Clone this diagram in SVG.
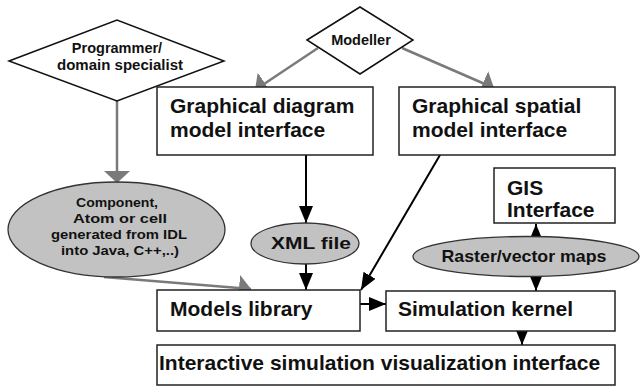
<svg xmlns="http://www.w3.org/2000/svg" width="641" height="386" viewBox="0 0 641 386">
  <style>
    .box { fill: #ffffff; stroke: #222222; stroke-width: 1.5; }
    .dia { fill: #ffffff; stroke: #111111; stroke-width: 1.5; }
    .ell { fill: #c2c2c2; stroke: #333333; stroke-width: 1.3; }
    .big { font-family: "Liberation Sans", Arial, sans-serif; font-weight: bold; font-size: 21px; fill: #111111; }
    .small { font-family: "Liberation Sans", Arial, sans-serif; font-weight: bold; font-size: 14.5px; fill: #111111; text-anchor: middle; }
    .tiny { font-family: "Liberation Sans", Arial, sans-serif; font-weight: bold; font-size: 13px; fill: #111111; text-anchor: middle; }
    .mid { font-family: "Liberation Sans", Arial, sans-serif; font-weight: bold; font-size: 17px; fill: #111111; text-anchor: middle; }
    .blk { stroke: #000000; stroke-width: 2; fill: none; }
    .gry { stroke: #7a7a7a; stroke-width: 2.5; fill: none; }
  </style>
  <defs>
    <marker id="ahBlack" markerUnits="userSpaceOnUse" markerWidth="18" markerHeight="14" refX="17" refY="7" orient="auto">
      <path d="M0,0 L17,7 L0,14 Z" fill="#000000"/>
    </marker>
    <marker id="ahGray" markerUnits="userSpaceOnUse" markerWidth="13" markerHeight="26" refX="12" refY="13" orient="auto">
      <path d="M0,0 L12,13 L0,26 Z" fill="#7a7a7a"/>
    </marker>
  </defs>

  <rect width="641" height="386" fill="#ffffff"/>

  <!-- connectors -->
  <g id="connectors">
    <line class="gry" x1="117" y1="101" x2="117" y2="183" marker-end="url(#ahGray)"/>
    <line class="gry" x1="318" y1="48" x2="255" y2="90" marker-end="url(#ahGray)"/>
    <line class="gry" x1="402" y1="48" x2="494" y2="88" marker-end="url(#ahGray)"/>
    <line class="gry" x1="104" y1="277" x2="251" y2="289" marker-end="url(#ahGray)"/>
    <line class="blk" x1="306" y1="155" x2="306" y2="223" marker-end="url(#ahBlack)"/>
    <line class="blk" x1="306" y1="264" x2="306" y2="290" marker-end="url(#ahBlack)"/>
    <line class="blk" x1="440" y1="155" x2="361" y2="290" marker-end="url(#ahBlack)"/>
    <line class="blk" x1="360" y1="304" x2="386" y2="304" marker-end="url(#ahBlack)"/>
    <line class="blk" x1="536" y1="237" x2="536" y2="224" marker-end="url(#ahBlack)"/>
    <line class="blk" x1="536" y1="277" x2="536" y2="291" marker-end="url(#ahBlack)"/>
    <line class="blk" x1="522" y1="331" x2="522" y2="345" marker-end="url(#ahBlack)"/>
  </g>

  <g id="programmer">
    <polygon class="dia" points="9,61 117,20 224,61 117,101"/>
    <text class="small" x="117" y="53">Programmer/</text>
    <text class="small" x="120" y="70" textLength="126" lengthAdjust="spacingAndGlyphs">domain specialist</text>
  </g>

  <g id="modeller">
    <polygon class="dia" points="307,40 360,7 413,40 360,74"/>
    <text class="small" x="361" y="45">Modeller</text>
  </g>

  <g id="graphical-diagram">
    <rect class="box" x="157" y="87" width="216" height="68"/>
    <text class="big" x="170" y="113">Graphical diagram</text>
    <text class="big" x="170" y="137">model interface</text>
  </g>

  <g id="graphical-spatial">
    <rect class="box" x="399" y="87" width="216" height="68"/>
    <text class="big" x="412" y="113">Graphical spatial</text>
    <text class="big" x="412" y="137">model interface</text>
  </g>

  <g id="gis">
    <rect class="box" x="494" y="168" width="121" height="55"/>
    <text class="big" x="507" y="195">GIS</text>
    <text class="big" x="507" y="217">Interface</text>
  </g>

  <g id="component">
    <ellipse class="ell" cx="116.5" cy="229.5" rx="108.5" ry="47.5"/>
    <text class="tiny" x="117" y="207" textLength="82" lengthAdjust="spacingAndGlyphs">Component,</text>
    <text class="tiny" x="120" y="223" font-size="14.5" textLength="94" lengthAdjust="spacingAndGlyphs">Atom or cell</text>
    <text class="tiny" x="119" y="239" textLength="136" lengthAdjust="spacingAndGlyphs">generated from IDL</text>
    <text class="tiny" x="120" y="255" textLength="118" lengthAdjust="spacingAndGlyphs">into Java, C++,..)</text>
  </g>

  <g id="xml-file">
    <ellipse class="ell" cx="305" cy="243.5" rx="54" ry="20.5"/>
    <text class="mid" x="311" y="249" textLength="80" lengthAdjust="spacingAndGlyphs">XML file</text>
  </g>

  <g id="raster-maps">
    <ellipse class="ell" cx="526" cy="256.5" rx="113" ry="20"/>
    <text class="mid" x="524" y="262" textLength="165" lengthAdjust="spacingAndGlyphs">Raster/vector maps</text>
  </g>

  <g id="models-library">
    <rect class="box" x="157" y="290" width="203" height="41"/>
    <text class="big" x="170" y="316">Models library</text>
  </g>

  <g id="simulation-kernel">
    <rect class="box" x="386" y="291" width="229" height="40"/>
    <text class="big" x="398" y="316">Simulation kernel</text>
  </g>

  <g id="visualization-interface">
    <rect class="box" x="157" y="345" width="458" height="40"/>
    <text class="big" x="159" y="370">Interactive simulation visualization interface</text>
  </g>
</svg>
